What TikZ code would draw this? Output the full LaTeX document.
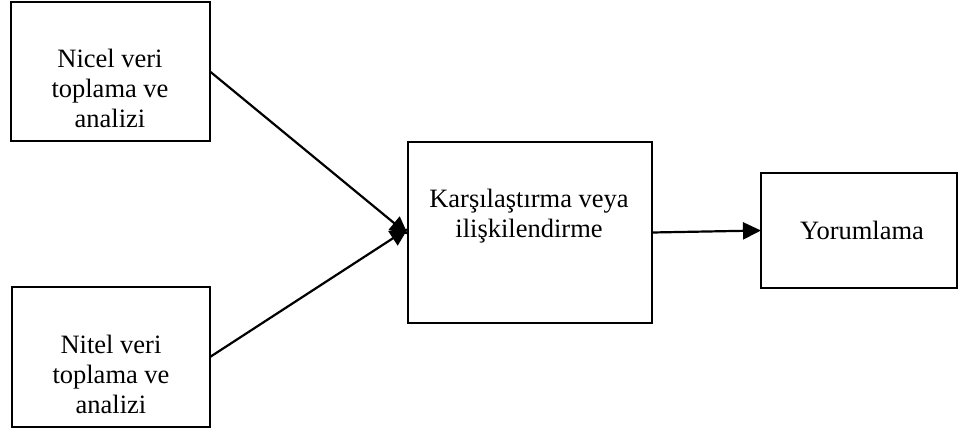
\documentclass[tikz,border=0pt]{standalone}
\usepackage{fontspec}
\setmainfont{Liberation Serif}
\usetikzlibrary{arrows.meta}
\begin{document}
\begin{tikzpicture}[x=1pt,y=-1pt,
  box/.style={draw=black, line width=2.4pt, fill=white, inner sep=0pt, outer sep=0pt},
  label/.style={inner sep=0pt, align=center, font=\fontsize{26.5}{30}\selectfont},
  link/.style={line width=2.2pt, -{Triangle[length=18pt,width=17pt]}}]
  \useasboundingbox (0,0) rectangle (962,432);

  % boxes
  \node[box, minimum width=199pt, minimum height=139pt] (quant) at (110.5,71.5) {};
  \node[box, minimum width=198pt, minimum height=140pt] (qual) at (111,357) {};
  \node[box, minimum width=244pt, minimum height=181pt] (merge) at (530,232.5) {};
  \node[box, minimum width=196pt, minimum height=115pt] (interp) at (859,230.5) {};

  % box texts
  \node[label] (quantT) at (110,88) {Nicel veri\\toplama ve\\analizi};
  \node[label] (qualT) at (111,374) {Nitel veri\\toplama ve\\analizi};
  \node[label] (mergeT) at (529,216) {Karşılaştırma veya\\ilişkilendirme};
  \node[label] (interpT) at (862,230.5) {Yorumlama};

  % connectors
  \draw[link] (quant.east) -- ([yshift=-2pt]merge.west);
  \draw[link] (qual.east) -- ([yshift=4pt]merge.west);
  \draw[link] (merge.east) -- (interp.west);
\end{tikzpicture}
\end{document}
